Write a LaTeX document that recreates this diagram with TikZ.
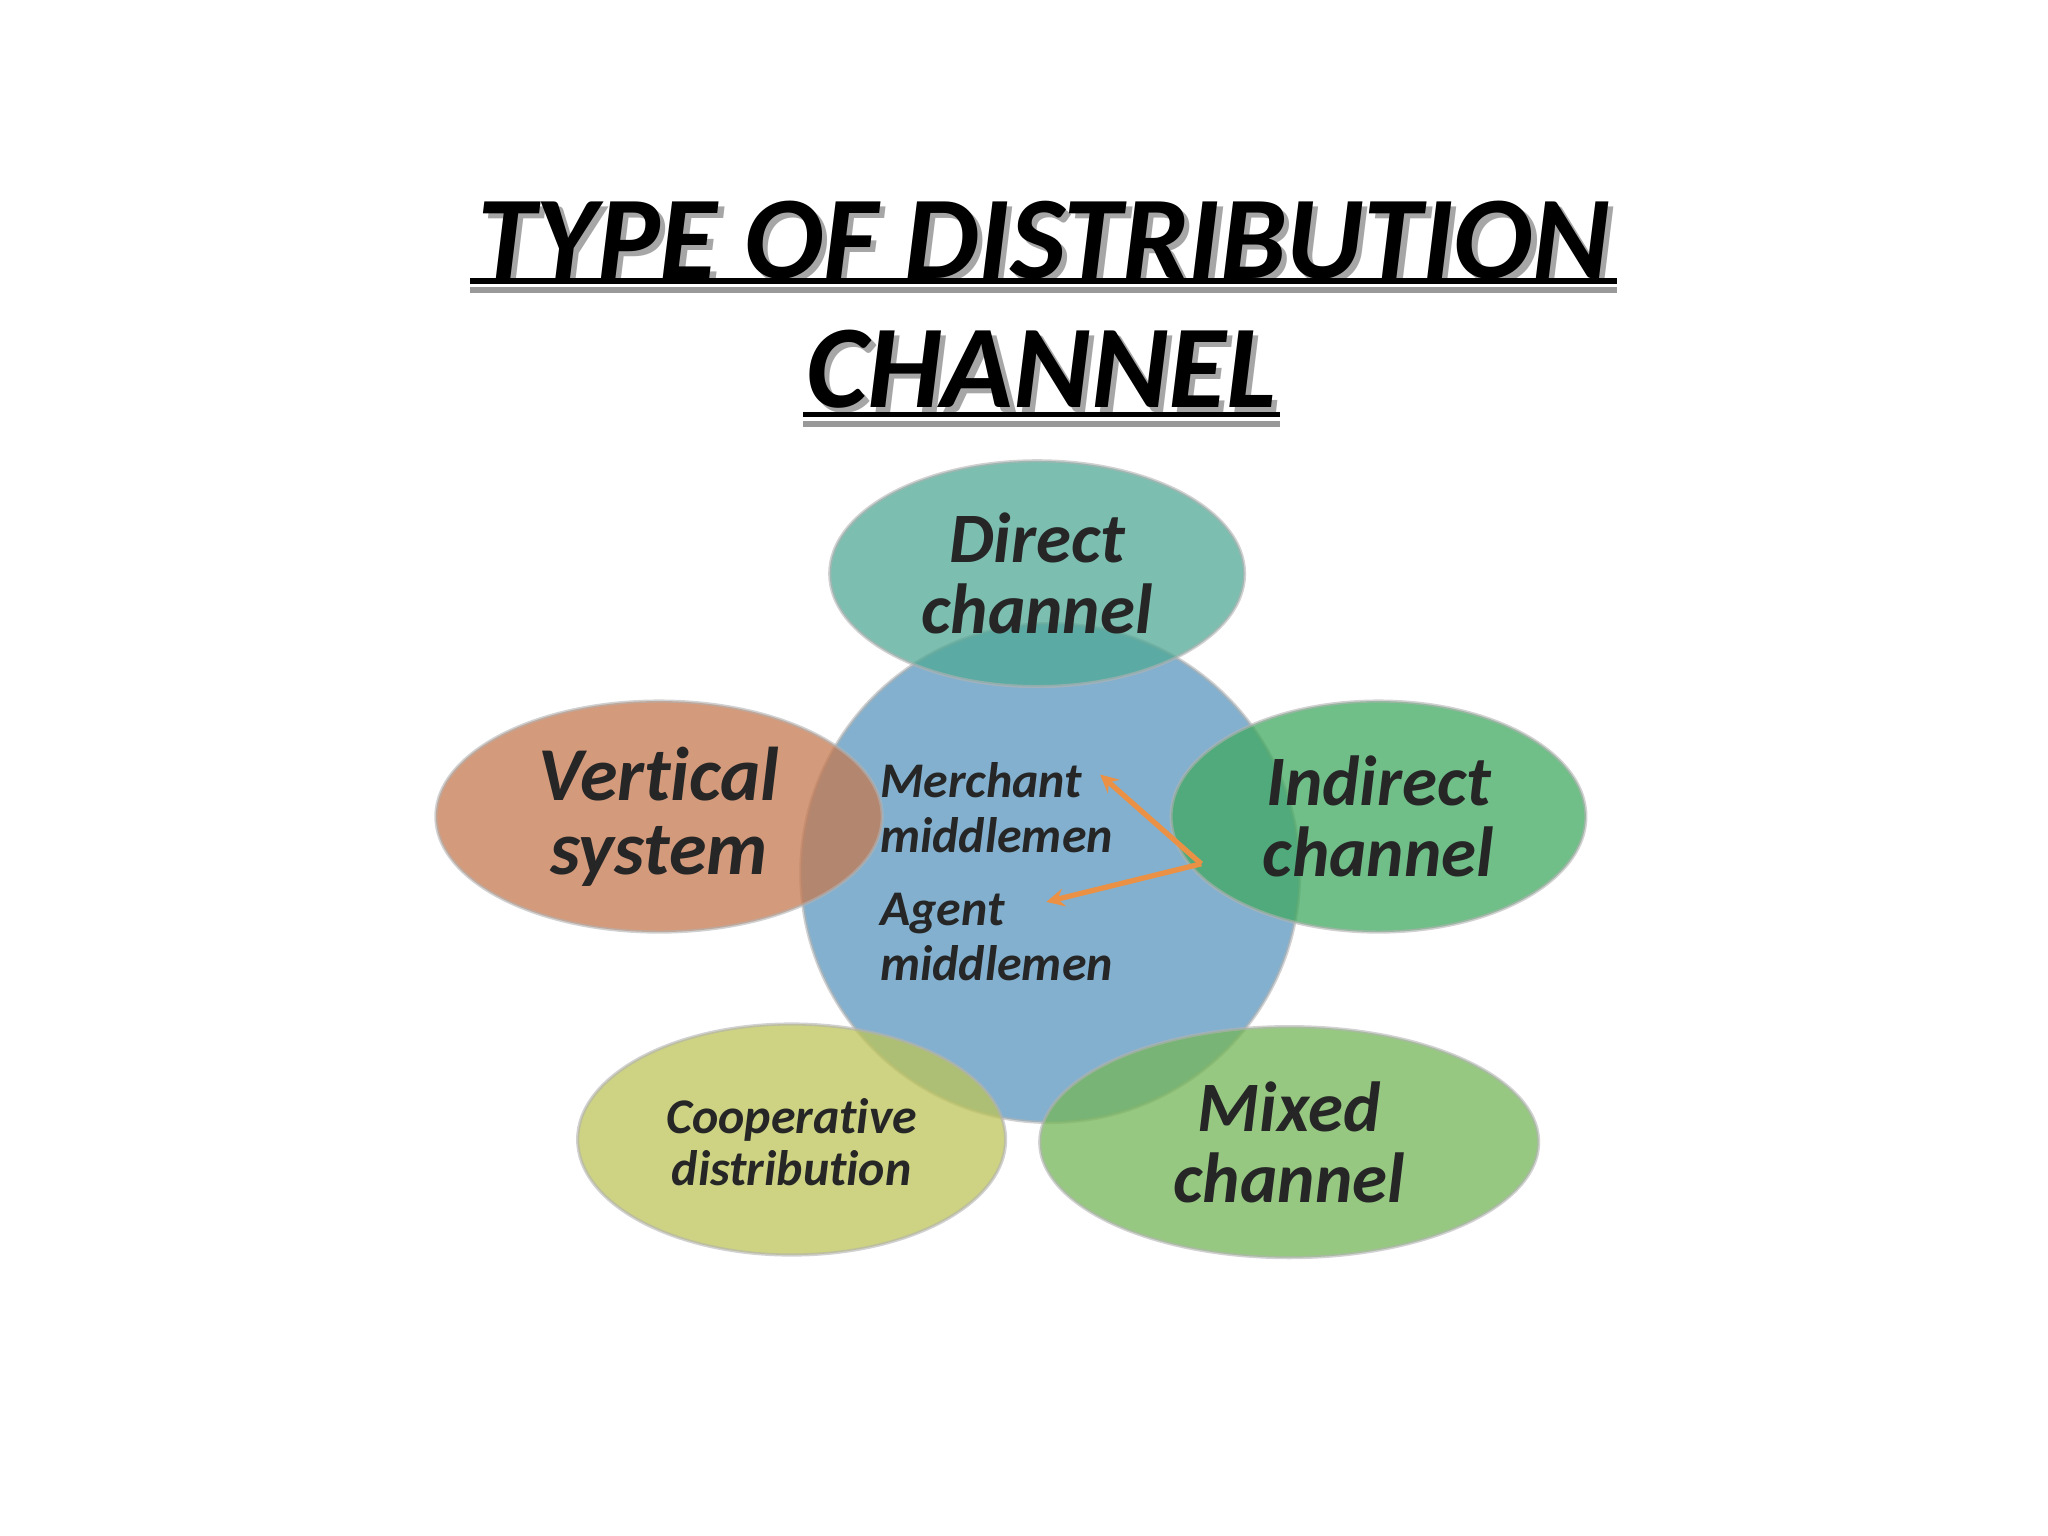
\documentclass[tikz,border=0pt]{standalone}
\usepackage{fontspec}
\setmainfont[Ligatures=NoCommon]{Carlito}
\newcommand{\shadowtxt}[1]{\rlap{\hspace{2pt}\raisebox{-2pt}{\color{black!35}#1}}#1}
\begin{document}
\begin{tikzpicture}[x=0.5pt,y=-0.5pt,
  blob/.style={draw=white!70!black,line width=1.2pt,fill opacity=0.75,draw opacity=0.6},
  lbl/.style={font=\bfseries\itshape,align=center,text=black!85},
  ttl/.style={font=\fontsize{45}{50}\selectfont\bfseries\itshape},
  arr/.style={draw={rgb,255:red,235;green,145;blue,70},line width=2pt,-stealth}]
\useasboundingbox (0,0) rectangle (1560,1170);
\definecolor{cdir}{RGB}{80,168,150}
\definecolor{cvert}{RGB}{196,120,80}
\definecolor{cind}{RGB}{64,168,96}
\definecolor{ccoop}{RGB}{188,196,88}
\definecolor{cmix}{RGB}{116,182,88}
\definecolor{cmid}{RGB}{88,150,190}
% title
\node[ttl] (t1) at (795,185) {\shadowtxt{TYPE OF DISTRIBUTION}};
\node[ttl] (t2) at (793,283) {\shadowtxt{CHANNEL}};
\draw[line width=2pt] (358,214) -- (1232,214);
\draw[line width=2pt,black!40] (358,221) -- (1232,221);
\draw[line width=2pt] (612,316) -- (975,316);
\draw[line width=2pt,black!40] (612,323) -- (975,323);
% shapes
\fill[blob,fill=cmid] (800,665) circle[radius=190];
\fill[blob,fill=cdir] (790,437) ellipse[x radius=158,y radius=86];
\fill[blob,fill=cvert] (502,622) ellipse[x radius=170,y radius=88];
\fill[blob,fill=cind] (1050,622) ellipse[x radius=158,y radius=88];
\fill[blob,fill=ccoop] (603,868) ellipse[x radius=163,y radius=88];
\fill[blob,fill=cmix] (982,870) ellipse[x radius=190,y radius=88];
% labels
\node[lbl,font=\fontsize{27}{27}\selectfont\bfseries\itshape] (dl) at (790,437) {Direct\\channel};
\node[lbl,font=\fontsize{29}{28}\selectfont\bfseries\itshape] (vl) at (502,622) {Vertical\\system};
\node[lbl,font=\fontsize{27}{27}\selectfont\bfseries\itshape] (il) at (1050,622) {Indirect\\channel};
\node[lbl,font=\fontsize{19}{20}\selectfont\bfseries\itshape] (cl) at (603,870) {Cooperative\\distribution};
\node[lbl,font=\fontsize{27}{27}\selectfont\bfseries\itshape] (ml) at (982,870) {Mixed\\channel};
\node[lbl,align=left,anchor=west,font=\fontsize{19}{21}\selectfont\bfseries\itshape,inner sep=0] (mm) at (670,615) {Merchant\\middlemen};
\node[lbl,align=left,anchor=west,font=\fontsize{19}{21}\selectfont\bfseries\itshape,inner sep=0] (am) at (670,714) {Agent\\middlemen};
\coordinate (pivot) at (915,658);
\draw[arr] (pivot) -- (838,590);
\draw[arr] (pivot) -- (797,687);
\end{tikzpicture}
\end{document}
